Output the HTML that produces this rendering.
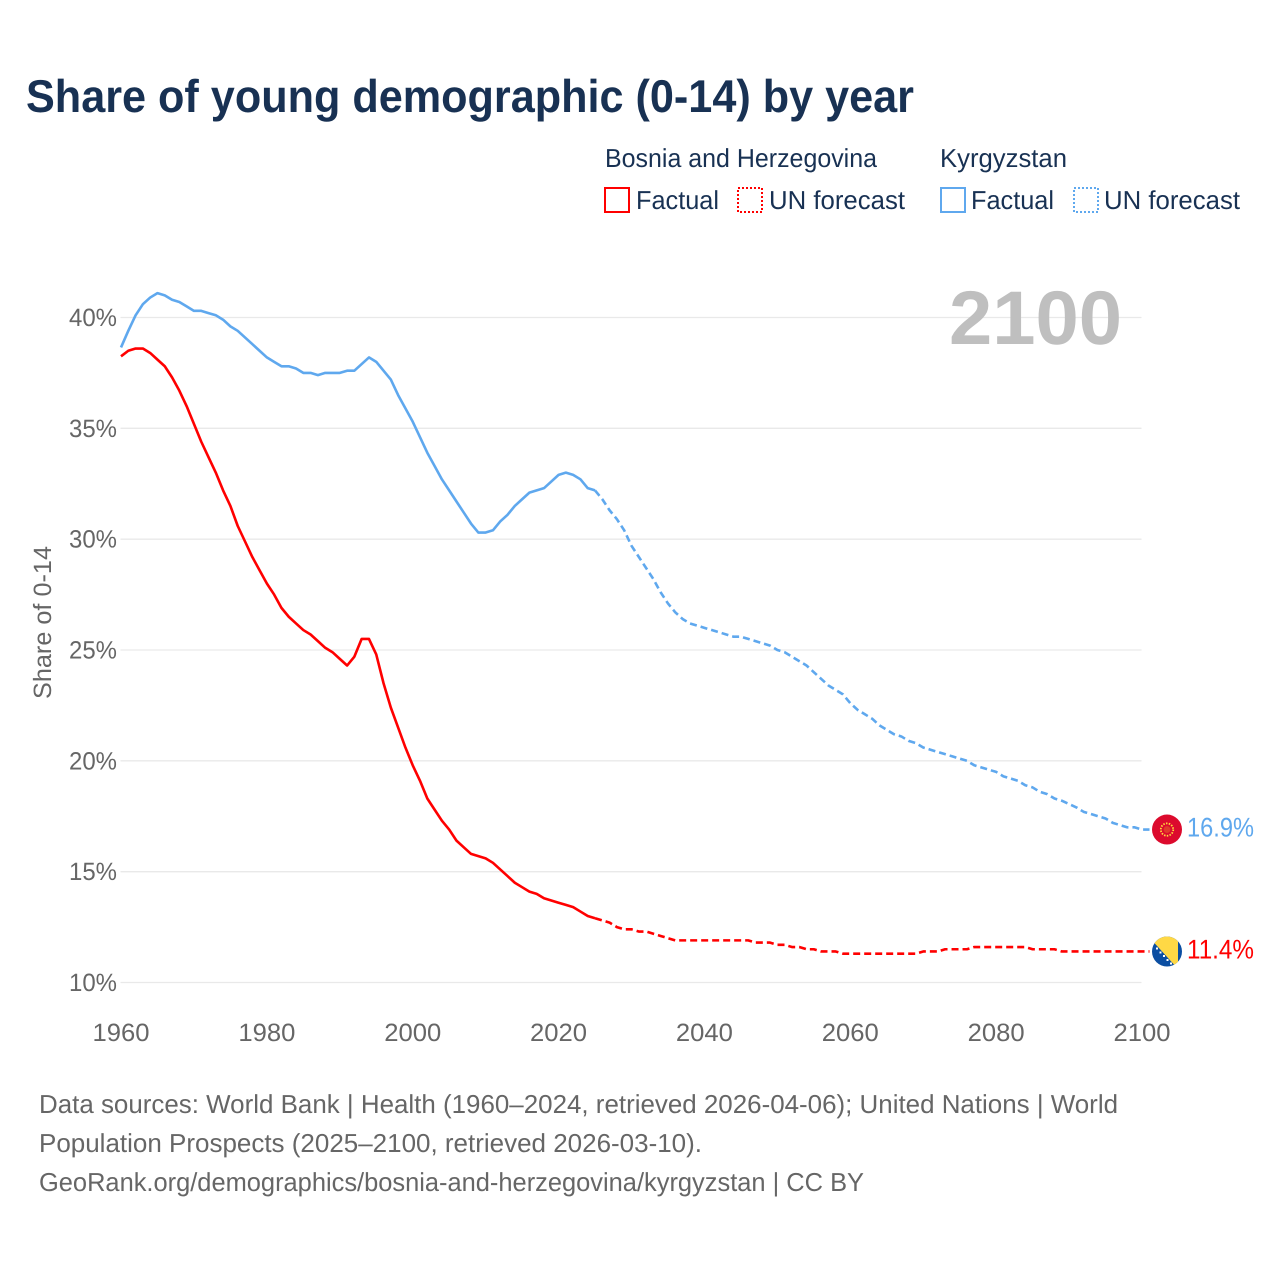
<!DOCTYPE html>
<html lang="en">
<head>
<meta charset="utf-8">
<title>Share of young demographic (0-14) by year</title>
<style>
html,body{margin:0;padding:0;background:#fff;}
svg{display:block;font-family:"Liberation Sans",sans-serif;text-rendering:geometricPrecision;}
</style>
</head>
<body>
<svg id="chart" xmlns="http://www.w3.org/2000/svg" width="1280" height="1280" viewBox="0 0 1280 1280">
  <rect x="0" y="0" width="1280" height="1280" fill="#fff"/>
  <text x="26" y="112" font-size="46" font-weight="700" fill="#183153" textLength="888" lengthAdjust="spacingAndGlyphs">Share of young demographic (0-14) by year</text>

  <g font-size="26" fill="#183153">
    <text x="605" y="167" textLength="272" lengthAdjust="spacingAndGlyphs">Bosnia and Herzegovina</text>
    <text x="940" y="167" textLength="127" lengthAdjust="spacingAndGlyphs">Kyrgyzstan</text>
    <rect x="605" y="188" width="24" height="24" fill="none" stroke="#ff0000" stroke-width="2"/>
    <text x="636" y="209" textLength="83" lengthAdjust="spacingAndGlyphs">Factual</text>
    <rect x="738" y="188" width="24" height="24" fill="none" stroke="#ff0000" stroke-width="2" stroke-dasharray="2 2"/>
    <text x="769" y="209" textLength="136" lengthAdjust="spacingAndGlyphs">UN forecast</text>
    <rect x="941" y="188" width="24" height="24" fill="none" stroke="#5fa8ee" stroke-width="2"/>
    <text x="971" y="209" textLength="83" lengthAdjust="spacingAndGlyphs">Factual</text>
    <rect x="1074" y="188" width="24" height="24" fill="none" stroke="#5fa8ee" stroke-width="2" stroke-dasharray="2 2"/>
    <text x="1104" y="209" textLength="136" lengthAdjust="spacingAndGlyphs">UN forecast</text>
  </g>

  <g id="grid"></g>
  <text x="949" y="344" font-size="76" font-weight="700" fill="#bfbfbf" textLength="173" lengthAdjust="spacingAndGlyphs">2100</text>
  <g id="yticks" font-size="25" fill="#666666"></g>
  <g id="xticks" font-size="25" fill="#666666"></g>
  <text transform="translate(51 699) rotate(-90)" font-size="25" fill="#666666" textLength="153" lengthAdjust="spacingAndGlyphs">Share of 0-14</text>
  <g id="series"></g>

  <defs>
    <clipPath id="flag-clip-ba"><circle cx="1167" cy="951.5" r="15"/></clipPath>
  </defs>
  <g id="flag-kg">
    <circle cx="1167" cy="828.5" r="15" fill="#dc0a2d"/>
    <circle cx="1167" cy="828.5" r="6.2" fill="none" stroke="#ffd83d" stroke-width="1.8" stroke-dasharray="1.5 1.3"/>
    <circle cx="1167" cy="828.5" r="3.4" fill="#e03a2c"/>
  </g>
  <g id="flag-ba" clip-path="url(#flag-clip-ba)">
    <rect x="1150" y="935" width="34" height="34" fill="#0b4ea2"/>
    <polygon points="1148,936 1178,936 1178,969" fill="#ffd845"/>
    <path d="M1156 948.5h2M1159.500 952.500h2M1163 956h2M1166.500 960h2M1170 963.500h2" stroke="#ffffff" stroke-width="2" fill="none"/>
  </g>

  <text id="label-kg" x="1187" y="836" font-size="27" fill="#5fa8ee" textLength="67" lengthAdjust="spacingAndGlyphs"></text>
  <text id="label-ba" x="1187" y="958" font-size="27" fill="#ff0000" textLength="67" lengthAdjust="spacingAndGlyphs"></text>

  <g font-size="26" fill="#666666">
    <text x="39" y="1113" textLength="1079" lengthAdjust="spacingAndGlyphs">Data sources: World Bank | Health (1960–2024, retrieved 2026-04-06); United Nations | World</text>
    <text x="39" y="1152" textLength="663" lengthAdjust="spacingAndGlyphs">Population Prospects (2025–2100, retrieved 2026-03-10).</text>
    <text x="39" y="1191" textLength="825" lengthAdjust="spacingAndGlyphs">GeoRank.org/demographics/bosnia-and-herzegovina/kyrgyzstan | CC BY</text>
  </g>
</svg>

<script>
const xTickYears = [1960, 1980, 2000, 2020, 2040, 2060, 2080, 2100];
const yTickValues = [10, 15, 20, 25, 30, 35, 40];
const yTickLabels = ["10%", "15%", "20%", "25%", "30%", "35%", "40%"];
const factualStartYear = 1960;
const forecastStartYear = 2025;
const bosniaFactual = [
  38.25,38.5,38.6,38.6,38.4,38.1,37.8,37.3,36.7,36.0,
  35.2,34.4,33.7,33.0,32.2,31.5,30.6,29.9,29.2,28.6,
  28.0,27.5,26.9,26.5,26.2,25.9,25.7,25.4,25.1,24.9,
  24.6,24.3,24.7,25.5,25.5,24.8,23.5,22.4,21.5,20.6,
  19.8,19.1,18.3,17.8,17.3,16.9,16.4,16.1,15.8,15.7,
  15.6,15.4,15.1,14.8,14.5,14.3,14.1,14.0,13.8,13.7,
  13.6,13.5,13.4,13.2,13.0,12.9
];
const bosniaForecast = [
  12.9,12.8,12.7,12.5,12.4,12.4,12.3,12.3,12.2,12.1,
  12.0,11.9,11.9,11.9,11.9,11.9,11.9,11.9,11.9,11.9,11.9,11.9,
  11.8,11.8,11.8,11.7,11.7,11.6,11.6,11.5,11.5,11.4,11.4,11.4,
  11.3,11.3,11.3,11.3,11.3,11.3,11.3,11.3,11.3,11.3,11.3,
  11.4,11.4,11.4,11.5,11.5,11.5,11.5,
  11.6,11.6,11.6,11.6,11.6,11.6,11.6,11.6,
  11.5,11.5,11.5,11.5,
  11.4,11.4,11.4,11.4,11.4,11.4,11.4,11.4,11.4,11.4,11.4,11.4
];
const kyrgyzstanFactual = [
  38.65,39.4,40.1,40.6,40.9,41.1,41.0,40.8,40.7,40.5,
  40.3,40.3,40.2,40.1,39.9,39.6,39.4,39.1,38.8,38.5,
  38.2,38.0,37.8,37.8,37.7,37.5,37.5,37.4,37.5,37.5,
  37.5,37.6,37.6,37.9,38.2,38.0,37.6,37.2,36.5,35.9,
  35.3,34.6,33.9,33.3,32.7,32.2,31.7,31.2,30.7,30.3,
  30.3,30.4,30.8,31.1,31.5,31.8,32.1,32.2,32.3,32.6,
  32.9,33.0,32.9,32.7,32.3,32.2
];
const kyrgyzstanForecast = [
  32.2,31.8,31.3,30.9,30.4,29.7,29.2,28.7,28.2,27.6,
  27.1,26.7,26.4,26.2,26.1,26.0,25.9,25.8,25.7,25.6,25.6,
  25.5,25.4,25.3,25.2,25.0,24.9,24.7,24.5,24.3,24.0,
  23.7,23.4,23.2,23.0,22.6,22.3,22.1,21.9,21.6,21.4,
  21.2,21.1,20.9,20.8,20.6,20.5,20.4,20.3,20.2,20.1,
  20.0,19.8,19.7,19.6,19.5,19.3,19.2,19.1,18.9,18.8,
  18.6,18.5,18.3,18.2,18.05,17.9,17.7,17.6,17.5,17.4,
  17.2,17.1,17.0,17.0,16.9
];
const bosniaEndLabel = "11.4%";
const kyrgyzstanEndLabel = "16.9%";

const SVGNS = "http://www.w3.org/2000/svg";
const xScale = function (year) { return 121 + (year - 1960) * (1021 / 140); };
const yScale = function (value) { return 982.5 - (value - 10) * (665 / 30); };

const gridGroup = document.getElementById("grid");
const yTickGroup = document.getElementById("yticks");
const xTickGroup = document.getElementById("xticks");
const seriesGroup = document.getElementById("series");

yTickValues.forEach(function (value, i) {
  const line = document.createElementNS(SVGNS, "line");
  
  
  line.setAttribute("x1", 120.5);
  line.setAttribute("x2", 1141.5);
  line.setAttribute("y1", yScale(value));
  line.setAttribute("y2", yScale(value));
  line.setAttribute("stroke", "#e9e9e9");
  line.setAttribute("stroke-width", "1.3");
  gridGroup.appendChild(line);

  const label = document.createElementNS(SVGNS, "text");
  
  
  label.setAttribute("x", 69);
  label.setAttribute("y", yScale(value) + 8.5);
  label.setAttribute("textLength", 48);
  label.setAttribute("lengthAdjust", "spacingAndGlyphs");
  label.textContent = yTickLabels[i];
  yTickGroup.appendChild(label);
});

xTickYears.forEach(function (year) {
  const label = document.createElementNS(SVGNS, "text");
  
  
  label.setAttribute("x", xScale(year) - 28.5);
  label.setAttribute("y", 1041);
  label.setAttribute("textLength", 57);
  label.setAttribute("lengthAdjust", "spacingAndGlyphs");
  label.textContent = String(year);
  xTickGroup.appendChild(label);
});

function buildPath(values, startYear, extendToFlag) {
  let d = "";
  values.forEach(function (value, i) {
    d += (i === 0 ? "M" : "L") + xScale(startYear + i).toFixed(2) + " " + yScale(value).toFixed(2);
  });
  if (extendToFlag) {
    d += "L" + (xScale(startYear + values.length - 1) + 7.5).toFixed(2) + " " + yScale(values[values.length - 1]).toFixed(2);
  }
  return d;
}

function drawSolid(values, color) {
  const path = document.createElementNS(SVGNS, "path");
  
  
  path.setAttribute("d", buildPath(values, factualStartYear, false));
  path.setAttribute("fill", "none");
  path.setAttribute("stroke", color);
  path.setAttribute("stroke-width", "2.6");
  path.setAttribute("stroke-linejoin", "round");
  seriesGroup.appendChild(path);
}

function drawDashed(values, color) {
  const path = document.createElementNS(SVGNS, "path");
  
  
  path.setAttribute("d", buildPath(values, forecastStartYear, true));
  path.setAttribute("fill", "none");
  path.setAttribute("stroke", color);
  path.setAttribute("stroke-width", "2.6");
  path.setAttribute("stroke-dasharray", "7 4");
  path.setAttribute("stroke-linejoin", "round");
  seriesGroup.appendChild(path);
}

drawSolid(kyrgyzstanFactual, "#5fa8ee");
drawDashed(kyrgyzstanForecast, "#5fa8ee");
drawSolid(bosniaFactual, "#ff0000");
drawDashed(bosniaForecast, "#ff0000");

function placeEndMarker(flagId, labelId, text, values, flagCenterY) {
  const y = yScale(values[values.length - 1]);
  document.getElementById(flagId).setAttribute("transform", "translate(0 " + (y - flagCenterY).toFixed(2) + ")");
  const label = document.getElementById(labelId);
  label.setAttribute("y", (y + 7).toFixed(2));
  label.textContent = text;
}
placeEndMarker("flag-kg", "label-kg", kyrgyzstanEndLabel, kyrgyzstanForecast, 828.5);
placeEndMarker("flag-ba", "label-ba", bosniaEndLabel, bosniaForecast, 951.5);
</script>
</body>
</html>
